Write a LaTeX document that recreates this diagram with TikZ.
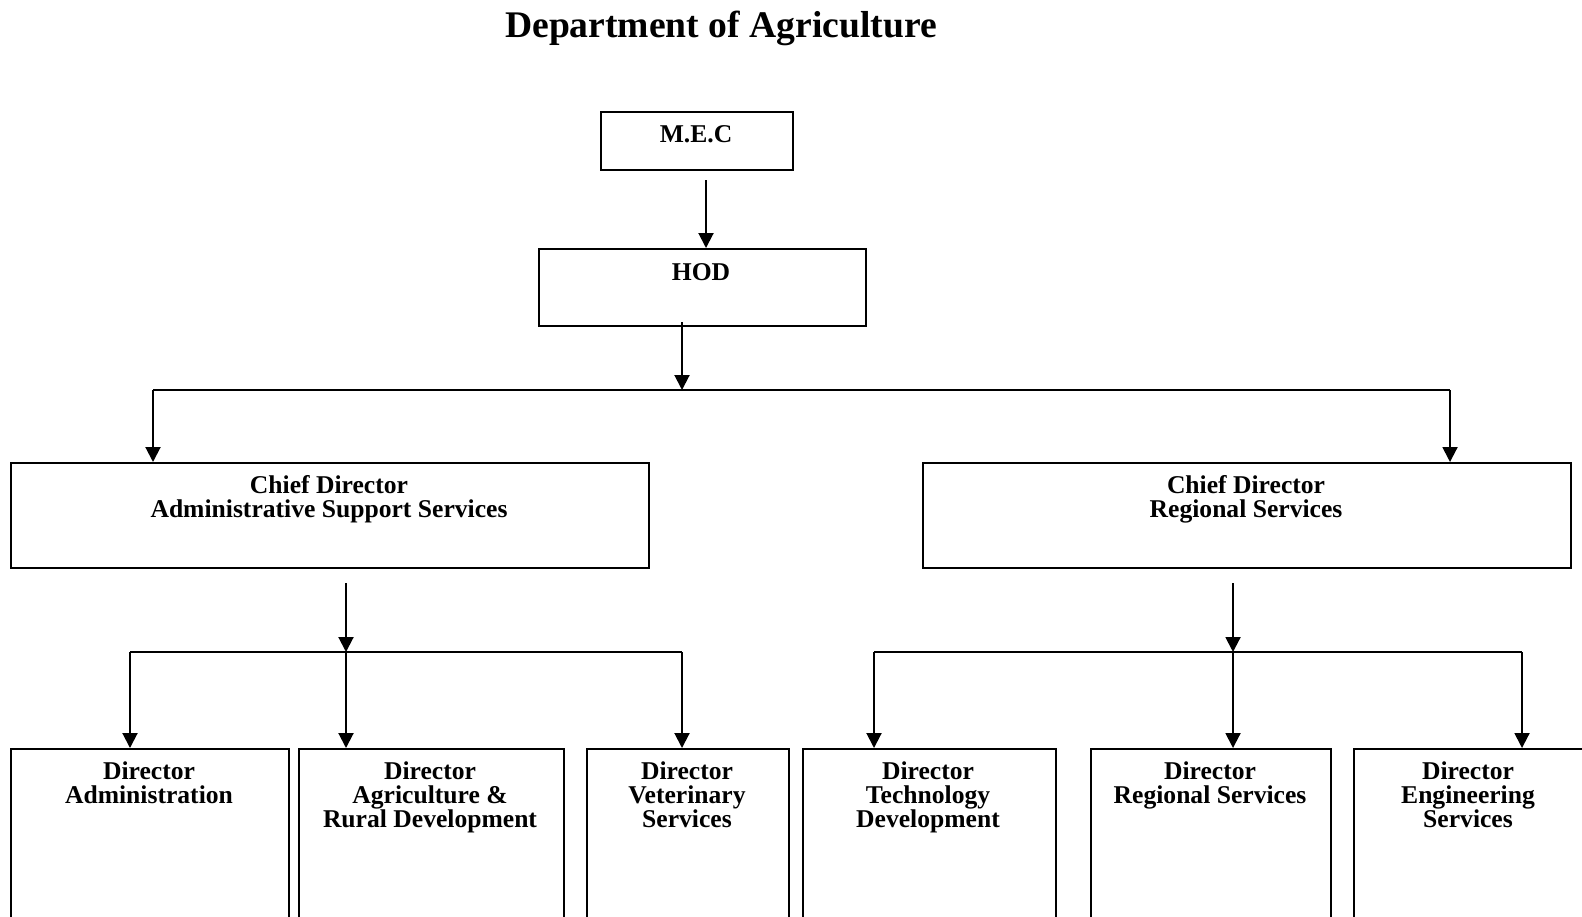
\documentclass[tikz,border=0pt]{standalone}
\usepackage{fontspec}
\setmainfont{Liberation Serif}
\usetikzlibrary{arrows.meta}
\begin{document}
\begin{tikzpicture}[x=0.5pt,y=-0.5pt,
 box/.style={draw,line width=1pt,inner sep=0pt,anchor=north west},
 lbl/.style={anchor=north,inner sep=0pt,align=center,font=\fontsize{12.8}{12}\selectfont\bfseries},
 ttl/.style={anchor=north,inner sep=0pt,font=\fontsize{18.8}{20}\selectfont\bfseries},
 arr/.style={line width=1pt,-{Triangle[width=7.5pt,length=7.5pt]}},
 ln/.style={line width=1pt}]
\clip (0,0) rectangle (1582,916);
% title
\node[ttl] (title) at (721,11) {Department of Agriculture};
% boxes
\node[box,minimum width=96pt,minimum height=28.75pt] (mec) at (600,111) {};
\node[box,minimum width=163.5pt,minimum height=38.5pt] (hod) at (538,248) {};
\node[box,minimum width=319pt,minimum height=52.5pt] (cdl) at (10,462) {};
\node[box,minimum width=324pt,minimum height=52.5pt] (cdr) at (922,462) {};
\node[box,minimum width=139pt,minimum height=96pt] (d1) at (10,748) {};
\node[box,minimum width=132.5pt,minimum height=96pt] (d2) at (298,748) {};
\node[box,minimum width=101pt,minimum height=96pt] (d3) at (586,748) {};
\node[box,minimum width=126.5pt,minimum height=96pt] (d4) at (802,748) {};
\node[box,minimum width=120pt,minimum height=96pt] (d5) at (1090,748) {};
\node[box,minimum width=115pt,minimum height=96pt] (d6) at (1353,748) {};
% labels
\node[lbl] (tmec) at (696,125) {M.E.C};
\node[lbl] (thod) at (701,263) {HOD};
\node[lbl] (tcdl) at (329,475) {Chief Director\\Administrative Support Services};
\node[lbl] (tcdr) at (1246,475) {Chief Director\\Regional Services};
\node[lbl] (td1) at (149,761) {Director\\Administration};
\node[lbl] (td2) at (430,761) {Director\\Agriculture \&\\Rural Development};
\node[lbl] (td3) at (687,761) {Director\\Veterinary\\Services};
\node[lbl] (td4) at (928,761) {Director\\Technology\\Development};
\node[lbl] (td5) at (1210,761) {Director\\Regional Services};
\node[lbl] (td6) at (1468,761) {Director\\Engineering\\Services};
% connector coordinates
\coordinate (b1) at (682,390);
\coordinate (b1l) at (153,390);
\coordinate (b1r) at (1450,390);
\coordinate (b2) at (346,652);
\coordinate (b2l) at (130,652);
\coordinate (b2r) at (682,652);
\coordinate (b3) at (1233,652);
\coordinate (b3l) at (874,652);
\coordinate (b3r) at (1522,652);
% connectors
\draw[arr] ([xshift=4.5pt,yshift=-4.75pt]mec.south) -- ([xshift=4.5pt]mec.south |- hod.north);
\draw[arr] ([yshift=2.5pt]hod.south -| b1) -- (b1);
\draw[ln] (b1l) -- (b1r);
\draw[arr] (b1l) -- (b1l |- cdl.north);
\draw[arr] (b1r) -- (b1r |- cdr.north);
\draw[arr] ([yshift=-7pt]cdl.south -| b2) -- (b2);
\draw[ln] (b2l) -- (b2r);
\draw[arr] (b2l) -- (b2l |- d1.north);
\draw[arr] (b2) -- (b2 |- d2.north);
\draw[arr] (b2r) -- (b2r |- d3.north);
\draw[arr] ([yshift=-7pt]cdr.south -| b3) -- (b3);
\draw[ln] (b3l) -- (b3r);
\draw[arr] (b3l) -- (b3l |- d4.north);
\draw[arr] (b3) -- (b3 |- d5.north);
\draw[arr] (b3r) -- (b3r |- d6.north);
\end{tikzpicture}
\end{document}
